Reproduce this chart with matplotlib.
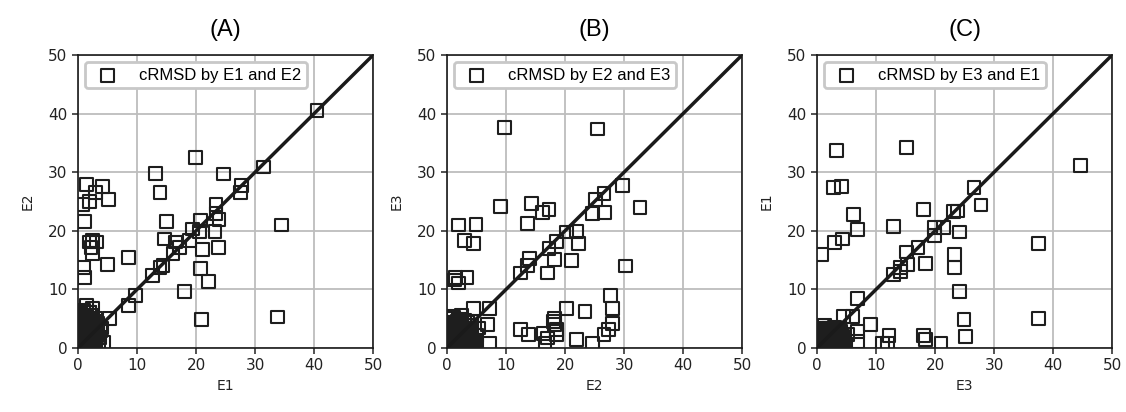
import matplotlib.pyplot as plt

# Panel A: E1 vs E2
a_x = [40.5, 19.9, 31.4, 13.1, 24.6, 13.9, 27.7, 27.5, 1.5, 4.1, 3.0, 5.1, 2.0, 0.85,
       1.1, 15.0, 34.5, 23.4, 23.4, 23.9, 23.2, 20.7, 19.4, 20.6, 14.6, 16.5, 17.2, 18.9,
       16.1, 21.1, 23.8, 2.0, 2.5, 3.1, 2.2, 2.5, 0.96, 1.1, 5.0, 8.6, 13.9, 14.4, 12.6,
       20.7, 22.1, 18.0, 9.7, 8.6, 20.9, 33.8, 5.4, 1.5, 2.5,
       0.3, 0.6, 0.9, 1.2, 1.5, 1.8, 2.1, 2.4, 2.7, 3.0, 3.3, 3.6, 0.4, 0.8, 1.3, 1.7,
       2.2, 2.6, 3.1, 3.5, 0.5, 1.0, 1.4, 1.9, 2.3, 2.8, 3.2, 0.2, 0.7, 1.1, 1.6, 2.0,
       2.9, 3.8, 0.6, 1.2, 1.8, 2.4, 3.0, 1.0, 2.0, 4.0, 4.4,
       0.1, 0.4, 0.7, 1.0, 1.3, 1.6, 1.9, 2.2, 2.5, 2.8,
       0.3, 0.6, 0.9, 1.2, 1.5, 1.8, 2.1, 2.4, 2.7, 3.0,
       0.2, 0.5, 0.8, 1.1, 1.4, 1.7, 2.0, 2.3, 2.6, 2.9,
       0.4, 0.7, 1.0, 1.3, 1.6, 1.9, 2.2, 2.5, 2.8, 3.1,
       0.1, 0.6, 1.1, 1.6, 2.1, 2.6, 3.1, 3.4, 0.9, 1.4,
       0.3, 0.8, 1.3, 1.8, 2.3, 2.8, 1.5, 2.0, 0.5, 1.0]
a_y = [40.6, 32.5, 30.9, 29.8, 29.7, 26.6, 27.8, 26.6, 27.9, 27.6, 26.6, 25.3, 25.0, 24.5,
       21.6, 21.6, 21.0, 24.5, 22.9, 22.0, 19.9, 21.8, 20.3, 19.9, 18.6, 18.1, 17.2, 18.4,
       16.1, 16.8, 17.2, 18.1, 18.4, 18.1, 17.2, 16.1, 13.7, 12.1, 14.2, 15.4, 13.7, 14.1, 12.4,
       13.6, 11.4, 9.7, 8.9, 7.2, 4.8, 5.3, 5.1, 7.3, 6.8,
       0.3, 1.0, 0.5, 2.0, 0.8, 1.5, 0.4, 2.8, 1.2, 0.6, 3.5, 1.8, 4.2, 3.1, 5.2, 2.4,
       4.8, 3.9, 2.2, 1.0, 5.8, 6.2, 3.6, 0.2, 5.6, 4.4, 2.9, 1.9, 3.3, 4.0, 0.9, 6.0,
       5.0, 3.0, 2.6, 1.4, 0.7, 4.6, 3.8, 2.0, 1.6, 3.4, 0.9,
       0.1, 0.3, 0.2, 0.5, 0.1, 0.4, 0.2, 0.6, 0.3, 0.1,
       0.9, 1.2, 0.8, 1.1, 1.4, 0.9, 1.3, 1.0, 1.5, 0.8,
       1.8, 2.1, 1.7, 2.3, 1.9, 2.2, 2.0, 1.6, 2.4, 2.1,
       2.7, 3.0, 2.8, 3.2, 2.6, 3.1, 2.9, 3.3, 2.7, 3.0,
       3.6, 3.9, 3.5, 4.0, 3.7, 3.4, 3.8, 4.2, 4.4, 4.6,
       5.0, 4.8, 5.3, 4.9, 5.1, 4.5, 5.6, 6.1, 5.9, 6.4]

# Panel B: E2 vs E3
b_x = [9.8, 25.5, 29.8, 26.6, 25.1, 24.6, 26.7, 32.7, 9.0, 14.3, 16.2, 17.3, 13.7, 1.9,
       4.9, 2.9, 4.5, 20.2, 21.9, 22.3, 18.6, 17.3, 18.2, 21.1, 14.0, 13.7, 12.5, 17.0,
       30.2, 1.2, 2.0, 3.4, 1.5, 27.7, 28.0, 28.1, 27.3, 26.6, 20.2, 23.4, 18.2, 18.2,
       18.5, 18.5, 18.1, 21.9, 24.6, 12.4, 13.8, 16.3, 17.0, 16.6, 7.2, 4.5, 7.2, 6.9, 0.8,
       0.3, 0.7, 1.0, 1.4, 1.8, 2.2, 2.6, 3.0, 3.4, 3.8, 4.2, 0.5, 0.9, 1.3, 1.7, 2.1,
       2.5, 2.9, 3.3, 3.7, 4.1, 4.6, 0.4, 1.1, 1.6, 2.3, 2.8, 3.5, 4.0, 5.0, 5.4, 0.6,
       1.5, 2.4, 3.2, 4.4, 2.0, 3.6,
       0.1, 0.5, 0.9, 1.3, 1.7, 2.1, 2.5, 2.9, 3.3, 3.7,
       0.3, 0.7, 1.1, 1.5, 1.9, 2.3, 2.7, 3.1, 3.5, 3.9,
       0.2, 0.6, 1.0, 1.4, 1.8, 2.2, 2.6, 3.0, 3.4, 3.8,
       0.4, 0.8, 1.2, 1.6, 2.0, 2.4, 2.8, 3.2, 3.6, 4.0,
       0.1, 0.7, 1.3, 1.9, 2.5, 3.1, 3.7, 4.3, 4.8, 0.5,
       1.1, 1.7, 2.3, 2.9, 3.5, 4.1, 1.0, 2.0, 3.0, 4.5]
b_y = [37.6, 37.4, 27.7, 26.4, 25.3, 22.9, 23.1, 24.0, 24.2, 24.7, 23.1, 23.7, 21.2, 21.0,
       21.1, 18.4, 17.8, 19.8, 19.9, 17.9, 18.2, 17.0, 15.1, 15.0, 15.3, 14.1, 12.8, 12.8,
       14.0, 11.6, 11.1, 12.0, 12.0, 9.0, 6.7, 4.2, 3.1, 2.3, 6.8, 6.2, 5.1, 4.0,
       3.1, 2.3, 4.5, 1.4, 0.8, 3.1, 2.3, 2.5, 1.7, 0.8, 6.8, 6.8, 0.8, 4.0, 5.4,
       0.3, 1.2, 0.6, 2.1, 1.0, 3.0, 0.4, 1.8, 2.6, 0.9, 1.5, 4.1, 2.9, 3.6, 0.2, 4.8,
       2.0, 3.3, 1.1, 2.4, 3.9, 1.3, 1.6, 5.2, 2.7, 3.8, 0.7, 4.5, 1.9, 2.2, 3.4, 2.8,
       4.4, 5.6, 3.2, 0.5, 1.4, 2.5,
       0.1, 0.3, 0.2, 0.5, 0.1, 0.4, 0.2, 0.6, 0.3, 0.1,
       0.9, 1.2, 0.8, 1.1, 1.4, 0.9, 1.3, 1.0, 1.5, 0.8,
       1.8, 2.1, 1.7, 2.3, 1.9, 2.2, 2.0, 1.6, 2.4, 2.1,
       2.7, 3.0, 2.8, 3.2, 2.6, 3.1, 2.9, 3.3, 2.7, 3.0,
       3.6, 3.9, 3.5, 4.0, 3.7, 3.4, 3.8, 1.2, 0.6, 4.4,
       4.2, 4.6, 4.1, 3.9, 4.3, 2.5, 5.0, 4.9, 4.7, 0.3]

# Panel C: E3 vs E1
c_x = [44.7, 3.3, 15.1, 2.8, 4.2, 26.6, 27.8, 18.0, 23.1, 23.8, 6.2, 6.8, 12.9, 19.9,
       21.4, 19.9, 24.1, 2.9, 4.3, 37.6, 0.7, 17.1, 15.1, 15.4, 14.1, 12.9, 14.2, 18.4,
       23.3, 23.3, 24.2, 6.8, 4.5, 6.0, 9.1, 24.9, 37.6, 25.1, 18.0, 18.4, 21.0, 12.2,
       11.1, 12.0, 6.8, 6.8, 5.2,
       0.3, 0.7, 1.1, 1.5, 1.9, 2.3, 2.7, 3.1, 3.5, 3.9, 4.3, 0.5, 0.9, 1.3, 1.7, 2.1,
       2.5, 2.9, 3.3, 3.7, 4.1, 0.4, 1.0, 1.6, 2.2, 2.8, 3.4, 4.0, 4.6, 0.6, 1.4, 2.0,
       2.6, 3.2, 3.8, 1.2, 2.4,
       0.1, 0.5, 0.9, 1.3, 1.7, 2.1, 2.5, 2.9, 3.3, 3.7,
       0.3, 0.7, 1.1, 1.5, 1.9, 2.3, 2.7, 3.1, 3.5, 3.9,
       0.2, 0.6, 1.0, 1.4, 1.8, 2.2, 2.6, 3.0, 3.4, 3.8,
       0.4, 0.8, 1.2, 1.6, 2.0, 2.4, 2.8, 3.2, 3.6, 4.0,
       0.1, 0.7, 1.3, 1.9, 2.5, 3.1, 3.7, 4.3, 4.8, 0.5,
       1.1, 1.7, 2.3, 2.9, 3.5, 4.1, 1.0, 2.0, 3.0, 4.5]
c_y = [31.2, 33.7, 34.2, 27.4, 27.6, 27.4, 24.4, 23.6, 23.3, 23.4, 22.8, 20.2, 20.8, 20.6,
       20.6, 19.2, 19.8, 18.0, 18.6, 17.8, 16.0, 17.1, 16.4, 14.3, 13.8, 12.5, 13.1, 14.4,
       16.0, 13.8, 9.6, 8.5, 5.4, 5.4, 4.0, 4.9, 5.0, 1.9, 2.1, 1.4, 0.8, 2.1,
       0.8, 0.8, 2.8, 1.1, 2.3,
       0.3, 1.1, 0.5, 2.0, 0.9, 1.6, 0.4, 2.6, 1.2, 0.7, 1.9, 3.0, 2.3, 3.3, 0.2, 2.8,
       1.4, 3.6, 0.6, 2.1, 1.0, 1.8, 3.2, 2.5, 0.8, 3.4, 1.5, 2.9, 0.5, 2.2, 1.3, 3.0,
       2.4, 1.7, 0.9, 3.8, 2.7,
       0.1, 0.3, 0.2, 0.4, 0.1, 0.3, 0.2, 0.5, 0.3, 0.1,
       0.7, 0.9, 0.6, 0.8, 1.0, 0.7, 0.9, 0.8, 1.1, 0.6,
       1.3, 1.5, 1.2, 1.6, 1.4, 1.5, 1.4, 1.2, 1.7, 1.5,
       1.9, 2.1, 2.0, 2.3, 1.8, 2.2, 2.0, 2.3, 1.9, 2.1,
       2.5, 2.8, 2.4, 2.9, 2.6, 2.4, 2.7, 1.0, 0.5, 3.1,
       3.0, 3.2, 2.9, 2.8, 3.1, 1.8, 3.4, 3.3, 3.2, 0.2]

titles = ['(A)', '(B)', '(C)']
xlabels = ['E1', 'E2', 'E3']
ylabels = ['E2', 'E3', 'E1']
legend_labels = ['cRMSD by E1 and E2', 'cRMSD by E2 and E3', 'cRMSD by E3 and E1']
panels = [(a_x, a_y), (b_x, b_y), (c_x, c_y)]

fig = plt.figure(figsize=(11.26, 4.12), dpi=100)
lefts = [0.0693, 0.397, 0.7256]

for i, (xs, ys) in enumerate(panels):
    ax = fig.add_axes([lefts[i], 0.1553, 0.262, 0.711])
    ax.grid(True, color='#bdbdbd', linewidth=1.3, zorder=0)
    ax.scatter(xs, ys, marker='s', s=85, facecolors='none', edgecolors='#1e1e1e',
               linewidths=1.5, zorder=3, label=legend_labels[i])
    ax.plot([0, 50], [0, 50], color='#1a1a1a', linewidth=2.5, zorder=4)
    ax.set_xlim(0, 50)
    ax.set_ylim(0, 50)
    ax.set_xticks(range(0, 51, 10))
    ax.set_yticks(range(0, 51, 10))
    ax.tick_params(direction='out', length=4, width=1.1, labelsize=11, colors='#222222')
    for sp in ax.spines.values():
        sp.set_linewidth(1.2)
        sp.set_color('#1a1a1a')
    ax.set_xlabel(xlabels[i], fontsize=10, color='#222222', labelpad=4)
    ax.set_ylabel(ylabels[i], fontsize=10, color='#222222', labelpad=10)
    ax.set_title(titles[i], fontsize=17, family='Liberation Sans', pad=14)
    leg = ax.legend(loc='upper left', prop={'family': 'Liberation Sans', 'size': 12},
                    fancybox=True, framealpha=1, edgecolor='#c8c8c8',
                    borderaxespad=0.4, handletextpad=0.9, borderpad=0.35)
    leg.get_frame().set_linewidth(2)

fig.savefig('out.png', dpi=100)
